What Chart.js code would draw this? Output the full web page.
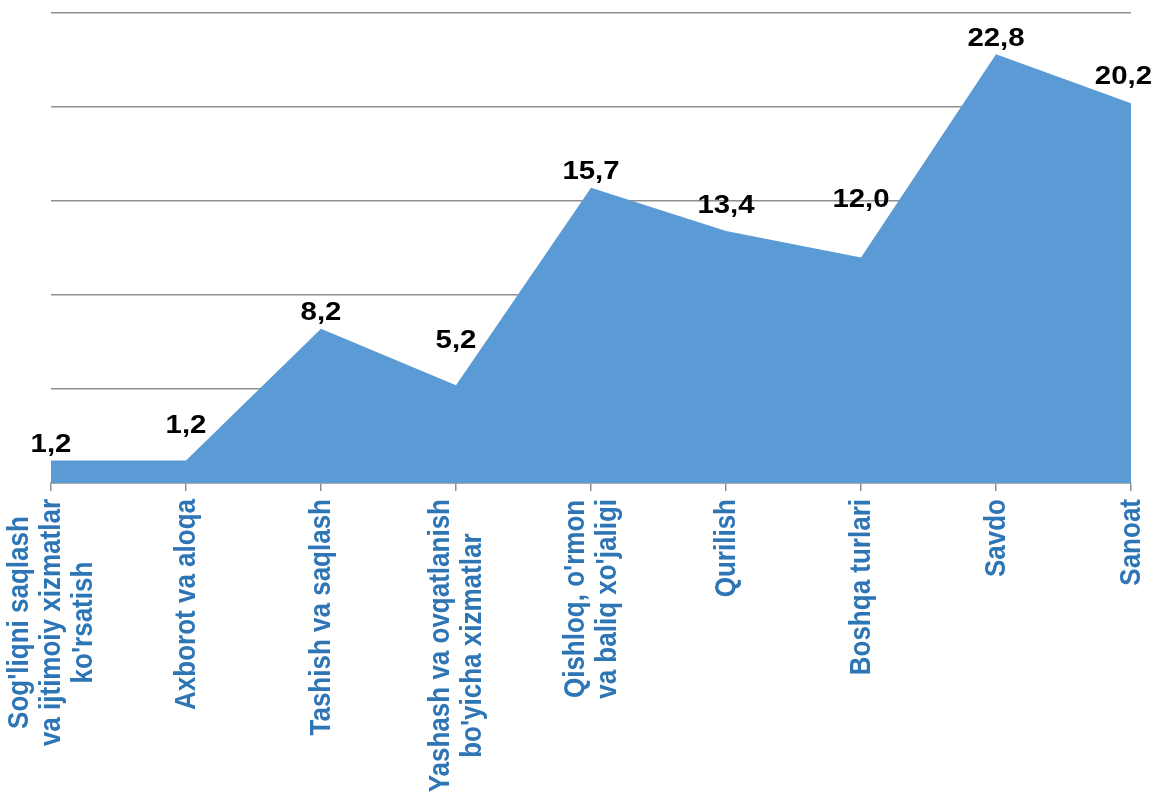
<!DOCTYPE html>
<html>
<head>
<meta charset="utf-8">
<title>Tarmoqlar</title>
<script src="https://cdn.jsdelivr.net/npm/chart.js@4/dist/chart.umd.min.js"></script>
<style>
    body { margin: 0; background: #ffffff; }
    canvas { display: block; }
</style>
</head>
<body>
<canvas id="myChart" width="1163" height="800"></canvas>
<script>
// kategoriyalar (har bir qator alohida)
const categories = [
    ["Sog'liqni saqlash", "va ijtimoiy xizmatlar", "ko'rsatish"],
    ["Axborot va aloqa"],
    ["Tashish va saqlash"],
    ["Yashash va ovqatlanish", "bo'yicha xizmatlar"],
    ["Qishloq, o'rmon", "va baliq xo'jaligi"],
    ["Qurilish"],
    ["Boshqa turlari"],
    ["Savdo"],
    ["Sanoat"]
]
const values = [1.2, 1.2, 8.2, 5.2, 15.7, 13.4, 12.0, 22.8, 20.2]
const yTicks = [0, 5, 10, 15, 20, 25]

const fillColor = '#5B9BD5'
const labelColor = '#2E75B6'
const gridColor = '#8f8f8f'
const fontFamily = "'Liberation Sans', Arial, sans-serif"
const stretch = 1.13 // yozuvlar biroz kengroq

function formatValue(v) {
    return v.toFixed(1).replace('.', ',')
}

// y of the area top edge at a given pixel x
function edgeYAt(points, px) {
    if (px <= points[0].x) return points[0].y
    for (let i = 1; i < points.length; i++) {
        let a = points[i - 1], b = points[i]
        if (px <= b.x) {
            return a.y + (b.y - a.y) * (px - a.x) / (b.x - a.x)
        }
    }
    return points[points.length - 1].y
}

// qiymatlar: nuqta ustida, chiziqqa tegmasdan
const valueLabels = {
    id: 'valueLabels',
    afterDatasetsDraw(chart) {
        const ctx = chart.ctx
        const meta = chart.getDatasetMeta(0)
        const points = meta.data.map(p => ({ x: p.x, y: p.y }))
        ctx.save()
        ctx.font = 'bold 26px ' + fontFamily
        ctx.fillStyle = '#000000'
        ctx.textAlign = 'center'
        ctx.textBaseline = 'middle'
        values.forEach((v, i) => {
            let text = formatValue(v)
            let half = ctx.measureText(text).width * stretch / 2
            let x = points[i].x
            let top = points[i].y
            for (let px = x - half; px <= x + half; px += 2) {
                top = Math.min(top, edgeYAt(points, px))
            }
            let y = top - 6 - 10
            x = Math.min(x, chart.width - 11 - half)
            ctx.save()
            ctx.translate(x, y)
            ctx.scale(stretch, 1)
            ctx.fillText(text, 0, 0)
            ctx.restore()
        })
        ctx.restore()
    }
}

// kategoriya yozuvlari: 90 gradusga burilgan, qatorlar markazda
const categoryLabels = {
    id: 'categoryLabels',
    afterDraw(chart) {
        const ctx = chart.ctx
        const xScale = chart.scales.x
        const top = chart.chartArea.bottom + 16
        const lineGap = 32
        ctx.save()
        ctx.font = 'bold 26px ' + fontFamily
        ctx.fillStyle = labelColor
        ctx.textAlign = 'center'
        ctx.textBaseline = 'middle'
        categories.forEach((lines, i) => {
            let x = xScale.getPixelForValue(i)
            let maxW = Math.max(...lines.map(l => ctx.measureText(l).width))
            let y = top + maxW / 2
            lines.forEach((line, k) => {
                let lx = x + (k - (lines.length - 1) / 2) * lineGap + 1
                ctx.save()
                ctx.translate(lx, y)
                ctx.scale(stretch, 1)
                ctx.rotate(-Math.PI / 2)
                ctx.fillText(line, 0, 0)
                ctx.restore()
            })
        })
        ctx.restore()
    }
}

const ctx = document.getElementById('myChart').getContext('2d')
const myChart = new Chart(ctx, {
    type: 'line',
    data: {
        labels: categories.map(c => c.join(' ')),
        datasets: [{
            data: values,
            fill: 'origin',
            backgroundColor: fillColor,
            borderWidth: 0,
            borderColor: fillColor,
            pointRadius: 0,
            tension: 0
        }]
    },
    options: {
        responsive: false,
        animation: false,
        layout: {
            padding: { left: 51, right: 32, top: 13, bottom: 309 }
        },
        plugins: {
            legend: { display: false },
            tooltip: { enabled: false }
        },
        scales: {
            x: {
                offset: false,
                ticks: { display: false },
                grid: {
                    drawOnChartArea: false,
                    drawTicks: true,
                    tickLength: 8,
                    color: gridColor,
                    lineWidth: 1.5
                },
                border: { display: true, color: gridColor, width: 1.5 }
            },
            y: {
                min: yTicks[0],
                max: yTicks[yTicks.length - 1],
                afterBuildTicks: axis => {
                    axis.ticks = yTicks.map(v => ({ value: v }))
                },
                ticks: { display: false },
                grid: {
                    drawTicks: false,
                    color: gridColor,
                    lineWidth: 1.5
                },
                border: { display: false }
            }
        }
    },
    plugins: [valueLabels, categoryLabels]
})
</script>
</body>
</html>
